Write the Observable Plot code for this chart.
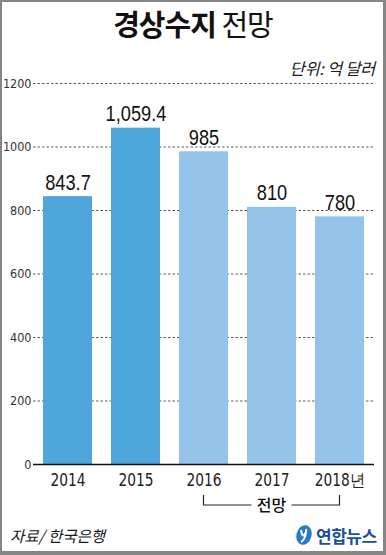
<!DOCTYPE html>
<html><head><meta charset="utf-8">
<script src="https://cdn.jsdelivr.net/npm/d3@7"></script>
<script src="https://cdn.jsdelivr.net/npm/@observablehq/plot@0.6"></script>
<style>
html,body{margin:0;padding:0;background:#fff;}
#page{position:relative;width:386px;height:555px;overflow:hidden;background:#fff;font-family:"Noto Sans CJK KR","Noto Sans",sans-serif;}
#frame{position:absolute;left:0;top:0;width:386px;height:555px;box-sizing:border-box;border-style:solid;border-color:#858585;border-width:2px 3px 4px 2px;pointer-events:none;}
#title{position:absolute;left:0;width:386px;top:3px;text-align:center;font-size:29px;line-height:40px;color:#111;letter-spacing:-1px;}
#title b{font-weight:700;}
#title span{font-weight:400;}
#unit{position:absolute;right:11px;top:56px;font-size:16.5px;font-style:italic;font-weight:400;color:#1a1a1a;line-height:24px;letter-spacing:-0.3px;}
#chart{position:absolute;left:0;top:60px;}
#source{position:absolute;left:10px;top:523px;font-size:15.5px;font-style:italic;font-weight:400;color:#1a1a1a;line-height:24px;}
#logo{position:absolute;left:295px;top:523px;height:24px;display:flex;align-items:center;}
#logo .t{font-size:17px;font-weight:700;color:#1b4f9c;letter-spacing:-0.5px;margin-left:3px;}
</style></head>
<body>
<div id="page">
  <div id="title"><b>경상수지</b> <span>전망</span></div>
  <div id="unit">단위: 억 달러</div>
  <div id="chart"></div>
  <div id="source">자료/ 한국은행</div>
  <div id="logo"><svg width="18" height="22" viewBox="0 0 18 22"><ellipse cx="9" cy="11" rx="7.5" ry="10" fill="#2a78c8" transform="rotate(15 9 11)"/><path d="M6 6 Q7 13 9 11 Q12 8 11 5 M11 8 Q10 16 6 18" stroke="#fff" stroke-width="2" fill="none"/></svg><span class="t">연합뉴스</span></div>
  <div id="frame"></div>
</div>
<script>
const years = ["2014", "2015", "2016", "2017", "2018"];
const yearLabels = ["2014", "2015", "2016", "2017", "2018년"];
const values = [843.7, 1059.4, 985, 810, 780];
const valueLabels = ["843.7", "1,059.4", "985", "810", "780"];
const forecast = [false, false, true, true, true];
const yTicks = [0, 200, 400, 600, 800, 1000, 1200];
const forecastLabel = "전망";

const data = years.map((y, i) => ({year: y, value: values[i], label: valueLabels[i], forecast: forecast[i]}));
const narrow = '"DejaVu Sans Condensed","Liberation Sans Narrow",sans-serif';

const plot = Plot.plot({
  width: 386,
  height: 455,
  marginLeft: 33,
  marginRight: 12,
  marginTop: 23,
  marginBottom: 51,
  style: {background: "transparent", fontFamily: narrow, overflow: "visible"},
  x: {domain: years, paddingInner: 0.285, paddingOuter: 0.13, label: null},
  y: {domain: [0, 1200], label: null},
  marks: [
    Plot.ruleY(yTicks.filter(d => d > 0), {stroke: "#333", strokeWidth: 0.8, strokeDasharray: "2.5,2"}),
    Plot.barY(data, {x: "year", y: "value", fill: d => d.forecast ? "#93c3e8" : "#4ea6dd"}),
    Plot.ruleY([0], {stroke: "#111", strokeWidth: 1.5}),
    Plot.text(data, {x: "year", y: "value", text: "label", dy: -7, lineAnchor: "bottom", fontSize: 22.5, fill: "#111", fontFamily: '"Liberation Sans",Arial,sans-serif'}),
    Plot.axisY({ticks: yTicks, tickSize: 0, tickPadding: 2, fontSize: 12.5, fill: "#333", tickFormat: d => String(d)}),
    Plot.axisX({tickSize: 0, tickPadding: 9, fontSize: 17, fill: "#222", tickFormat: (d, i) => yearLabels[years.indexOf(d)]})
  ]
});
document.getElementById("chart").appendChild(plot);

// narrow the value labels (condensed look of the original)
d3.select(plot).selectAll('g[aria-label="text"] text').each(function() {
  const w = this.getComputedTextLength();
  this.setAttribute("textLength", (w * 0.81).toFixed(1));
  this.setAttribute("lengthAdjust", "spacingAndGlyphs");
});
d3.select(plot).selectAll('g[aria-label="x-axis tick label"] text').each(function() {
  const w = this.getComputedTextLength();
  this.setAttribute("textLength", (w * 0.9).toFixed(1));
  this.setAttribute("lengthAdjust", "spacingAndGlyphs");
});

// forecast bracket from 2016 to 2018 centers, using the plot's x scale
const xs = plot.scale("x");
const bw = xs.bandwidth;
const fYears = years.filter((y, i) => forecast[i]);
const xa = xs.apply(fYears[0]) + bw / 2;
const xb = xs.apply(fYears[fYears.length - 1]) + bw / 2;
const xm = (xa + xb) / 2;
const yb = 445, gap = 20;
const svg = d3.select(plot);
const g = svg.append("g").attr("stroke", "#222").attr("stroke-width", 1.2).attr("fill", "none");
g.append("path").attr("d", `M${xa},${yb - 10}V${yb}H${xm - gap}`);
g.append("path").attr("d", `M${xb},${yb - 10}V${yb}H${xm + gap}`);
svg.append("text").attr("x", xm).attr("y", yb).attr("dy", "0.36em").attr("text-anchor", "middle")
  .attr("font-size", 16).attr("font-weight", 500).attr("fill", "#111")
  .attr("font-family", '"Noto Sans CJK KR",sans-serif').text(forecastLabel);
</script>
</body></html>
